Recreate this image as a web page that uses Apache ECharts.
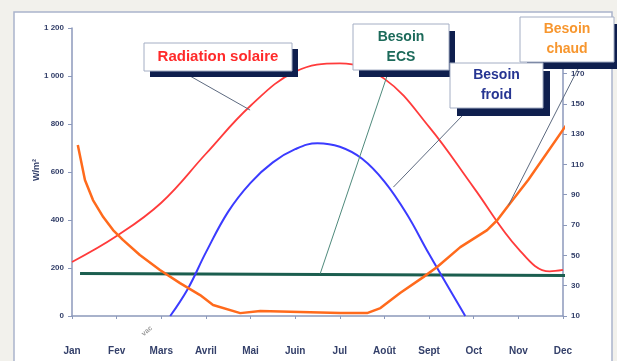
<!DOCTYPE html>
<html>
<head>
<meta charset="utf-8">
<script src="https://cdn.jsdelivr.net/npm/echarts@6/dist/echarts.min.js"></script>
<style>
  html, body { margin: 0; padding: 0; background: #f2f1ec; }
  #chart { width: 617px; height: 361px; }
</style>
</head>
<body>
<div id="chart"></div>
<script>
// Month names along the bottom axis (index 0 = Jan ... 11 = Dec)
const months = ['Jan', 'Fev', 'Mars', 'Avril', 'Mai', 'Juin', 'Jul', 'Août', 'Sept', 'Oct', 'Nov', 'Dec'];

// Tick labels
const leftTickLabels = ['0', '200', '400', '600', '800', '1 000', '1 200'];
const rightTickLabels = ['10', '30', '50', '70', '90', '110', '130', '150', '170', '190'];

// Series, as [month position, W/m²]
const radiationSolaire = [[0, 225], [1, 333], [2, 472], [3, 676], [4, 876], [5, 1018], [6, 1053], [7, 988], [8, 788], [9, 535], [10, 280], [10.7, 186], [11, 192]];
const besoinFroid = [[2.2, 0], [2.6, 115], [3, 265], [3.5, 435], [4, 555], [4.5, 640], [5, 695], [5.5, 720], [6, 705], [6.5, 655], [7, 560], [7.5, 425], [8, 258], [8.81, 0]];
const besoinECS = [[0.18, 177], [11.1, 169]];
const besoinChaud = [[0.13, 712], [0.29, 567], [0.47, 483], [0.7, 412], [0.92, 358], [1.14, 317], [1.52, 254], [1.97, 192], [2.42, 137], [2.87, 87], [3.16, 46], [3.77, 12], [4.22, 21], [5.11, 17], [6.01, 12], [6.61, 12], [6.91, 33], [7.35, 96], [7.87, 162], [8.18, 204], [8.7, 287], [9.3, 358], [9.53, 400], [9.82, 471], [10.22, 567], [11.12, 808]];

// Where each callout's leader line touches its curve
const leaderTargets = {
  radiation: [3.99, 858],
  ecs: [5.56, 176],
  froid: [7.2, 537],
  chaud: [9.78, 462]
};

const FONT = '"Liberation Sans", Arial, sans-serif';
const axisColor = '#8c99bb';
const labelColor = '#34406a';

const chart = echarts.init(document.getElementById('chart'), null, { renderer: 'canvas' });

function callout(x, y, w, h, lines, color, shadow) {
  const els = [
    { type: 'rect', z: 100, shape: { x: x + shadow[0], y: y + shadow[1], width: w, height: h }, style: { fill: '#0f1f4e' } },
    { type: 'rect', z: 101, shape: { x: x, y: y, width: w, height: h }, style: { fill: '#ffffff', stroke: '#a4aec4', lineWidth: 1 } }
  ];
  const lh = lines.length > 1 ? 20 : 0;
  lines.forEach((t, i) => {
    els.push({
      type: 'text', z: 102,
      style: {
        text: t, x: x + w / 2, y: y + h / 2 + (i - (lines.length - 1) / 2) * lh,
        fill: color, font: 'bold ' + (lines.length > 1 ? 14 : 15) + 'px ' + FONT,
        textAlign: 'center', textVerticalAlign: 'middle'
      }
    });
  });
  return els;
}

const option = {
  backgroundColor: '#f2f1ec',
  animation: false,
  grid: { left: 72, right: 54, top: 28, bottom: 45 },
  xAxis: {
    type: 'value', min: 0, max: 11, interval: 1,
    axisLine: { show: true, onZero: false, lineStyle: { color: axisColor, width: 1.5 } },
    axisTick: { show: true, length: 3, lineStyle: { color: axisColor } },
    splitLine: { show: false },
    axisLabel: {
      margin: 30, color: labelColor, fontFamily: FONT, fontWeight: 'bold', fontSize: 10,
      formatter: v => months[Math.round(v)]
    }
  },
  yAxis: [
    {
      type: 'value', min: 0, max: 1200, interval: 200, position: 'left',
      axisLine: { show: true, lineStyle: { color: axisColor, width: 1.5 } },
      axisTick: { show: true, length: 4, lineStyle: { color: axisColor } },
      splitLine: { show: false },
      axisLabel: {
        margin: 8, color: labelColor, fontFamily: FONT, fontWeight: 'bold', fontSize: 8,
        formatter: v => leftTickLabels[Math.round(v / 200)]
      }
    },
    {
      type: 'value', min: 10, max: 200, interval: 20, position: 'right',
      axisLine: { show: true, lineStyle: { color: axisColor, width: 1.5 } },
      axisTick: { show: true, length: 4, lineStyle: { color: axisColor } },
      splitLine: { show: false },
      axisLabel: {
        margin: 8, color: labelColor, fontFamily: FONT, fontWeight: 'bold', fontSize: 8,
        formatter: v => rightTickLabels[Math.round((v - 10) / 20)]
      }
    }
  ],
  series: [
    { name: 'Besoin ECS', type: 'line', data: besoinECS, showSymbol: false, clip: false,
      lineStyle: { color: '#1b5e4f', width: 3 }, z: 3 },
    { name: 'Radiation solaire', type: 'line', data: radiationSolaire, smooth: 0.4, showSymbol: false, clip: false,
      lineStyle: { color: '#ff3b3b', width: 1.8 }, z: 4 },
    { name: 'Besoin froid', type: 'line', data: besoinFroid, smooth: 0.4, showSymbol: false, clip: false,
      lineStyle: { color: '#3b3bff', width: 2 }, z: 4 },
    { name: 'Besoin chaud', type: 'line', data: besoinChaud, showSymbol: false, clip: false,
      lineStyle: { color: '#ff6a1c', width: 2.5 }, z: 5 }
  ]
};

chart.setOption(option);

function px(p) { return chart.convertToPixel({ gridIndex: 0 }, p); }

const tR = px(leaderTargets.radiation);
const tE = px(leaderTargets.ecs);
const tF = px(leaderTargets.froid);
const tC = px(leaderTargets.chaud);

const leader = (x1, y1, p, color) => ({
  type: 'line', z: 50,
  shape: { x1: x1, y1: y1, x2: p[0], y2: p[1] },
  style: { stroke: color, lineWidth: 1 }
});

const graphics = [
  // white panel behind the plot
  { type: 'rect', z: -10, silent: true, shape: { x: 14, y: 12, width: 598, height: 360 },
    style: { fill: '#ffffff', stroke: '#aab4cc', lineWidth: 1.5 } },
  // unit of the left axis
  { type: 'text', z: 20, rotation: Math.PI / 2, x: 37, y: 170,
    style: { text: 'W/m²', fill: labelColor, font: 'bold 9px ' + FONT, textAlign: 'center', textVerticalAlign: 'middle' } },
  leader(190, 76, tR, '#5d6a80'),
  leader(387, 76, tE, '#4f8a7c'),
  leader(462, 116, tF, '#5d6a80'),
  leader(585, 55, tC, '#5d6a80'),
  ...callout(144, 43, 148, 28, ['Radiation solaire'], '#ff2a2a', [6, 6]),
  ...callout(353, 24, 96, 46, ['Besoin', 'ECS'], '#1c6a5a', [6, 7]),
  ...callout(450, 63, 93, 45, ['Besoin', 'froid'], '#263592', [7, 8]),
  ...callout(520, 17, 94, 45, ['Besoin', 'chaud'], '#f7962e', [7, 7]),
  // small note under the March tick
  { type: 'text', z: 20, rotation: Math.PI / 4.5, x: 147, y: 331,
    style: { text: 'vac', fill: '#9a9a9a', font: 'bold 7px ' + FONT, textAlign: 'center', textVerticalAlign: 'middle' } }
];

chart.setOption({ graphic: graphics });
</script>
</body>
</html>
